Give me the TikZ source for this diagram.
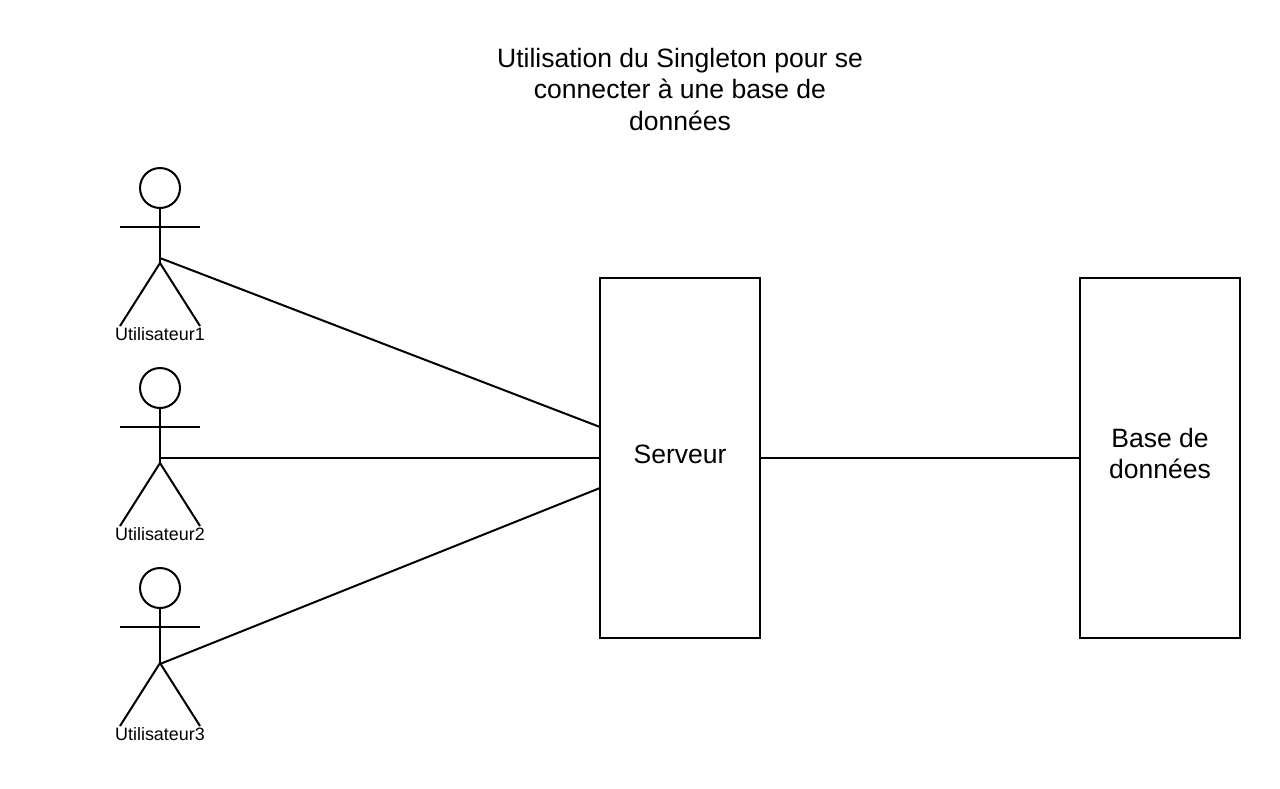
\documentclass[tikz,border=0pt]{standalone}
\usepackage{fontspec}
\setmainfont{Liberation Sans}
\usetikzlibrary{positioning}
\tikzset{
  trait/.style={line width=1.14pt, black},
  boite/.style={draw, line width=1.14pt, minimum width=3.2cm, minimum height=7.2cm, align=center, font=\fontsize{15.1}{18.2}\selectfont, inner sep=0pt},
  etiquette/.style={font=\fontsize{10.2}{12}\selectfont, inner sep=0pt}
}
\begin{document}
\begin{tikzpicture}[x=0.02cm, y=-0.02cm]
\useasboundingbox (0,0) rectangle (1280,788);

% Titre
\node[align=center, font=\fontsize{15.1}{18.2}\selectfont, inner sep=0pt] (titre) at (680,89.5) {Utilisation du Singleton pour se\\connecter à une base de\\données};

% Boites
\node[boite] (serveur) at (680,458) {};
\node[boite] (base) at (1160,458) {};
\node[font=\fontsize{15.1}{18.2}\selectfont, inner sep=0pt] (lblserveur) at (680,454) {Serveur};
\node[align=center, font=\fontsize{15.1}{18.2}\selectfont, inner sep=0pt] (lblbase) at (1160,453.5) {Base de\\données};

% Utilisateurs
\foreach \n/\y/\a in {1/188/258, 2/388/458, 3/588/664} {
  \node[draw, trait, circle, minimum size=0.8cm, inner sep=0pt] (tete\n) at (160,\y) {};
  \coordinate (bassin\n) at (160,\y+75);
  \coordinate (attache\n) at (160,\a);
  \coordinate (brasg\n) at (120,\y+39);
  \coordinate (brasd\n) at (200,\y+39);
  \coordinate (piedg\n) at (120,\y+138);
  \coordinate (piedd\n) at (200,\y+138);
  \draw[trait] (tete\n.south) -- (bassin\n);
  \draw[trait] (brasg\n) -- (brasd\n);
  \draw[trait] (piedg\n) -- (bassin\n) -- (piedd\n);
  \node[etiquette] (user\n) at (160,\y+146.5) {Utilisateur\n};
}

% Liaisons
\coordinate (entree1) at (600,427);
\coordinate (entree3) at (600,488);
\draw[trait] (attache1) -- (entree1);
\draw[trait] (attache2) -- (serveur.west);
\draw[trait] (attache3) -- (entree3);
\draw[trait] (serveur) -- (base);
\end{tikzpicture}
\end{document}
